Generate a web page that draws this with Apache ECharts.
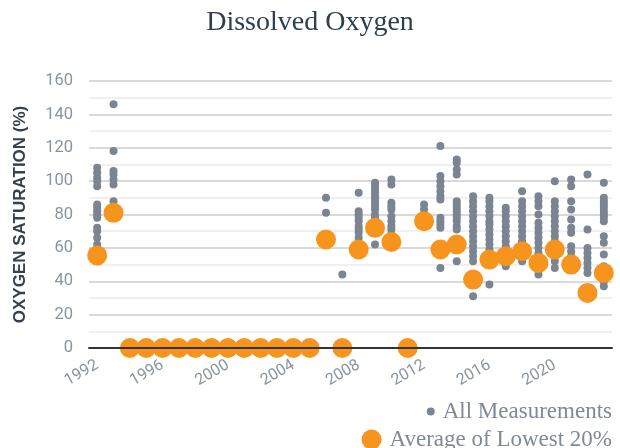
<!DOCTYPE html>
<html>
<head>
<meta charset="utf-8">
<style>
  html, body { margin: 0; padding: 0; background: #fff; }
  #chart { width: 620px; height: 448px; }
</style>
<script src="https://cdn.jsdelivr.net/npm/echarts@6/dist/echarts.min.js"></script>
</head>
<body>
<div id="chart"></div>
<script>
// years that have data
const years = [1992, 1993, 1994, 1995, 1996, 1997, 1998, 1999, 2000, 2001, 2002, 2003,
  2004, 2005, 2006, 2007, 2008, 2009, 2010, 2011, 2012, 2013, 2014, 2015, 2016,
  2017, 2018, 2019, 2020, 2021, 2022, 2023];

// all measurements, one list per year (same order as years)
const measurements = [
  [108, 105, 102, 100, 97, 86, 84, 82, 80, 78, 72, 70, 66, 62],
  [146, 118, 106, 104, 101, 98, 88, 84],
  [0], [0], [0], [0], [0], [0], [0], [0], [0], [0], [0], [0],
  [90, 81],
  [44, 0],
  [93, 82, 80, 78, 76, 73, 71, 69, 66, 63],
  [99, 97, 95, 93, 91, 89, 87, 85, 83, 80, 78, 62],
  [101, 98, 87, 85, 83, 79, 76, 73, 71, 68],
  [0],
  [86, 83],
  [121, 103, 100, 97, 94, 91, 89, 78, 76, 74, 72, 48],
  [113, 111, 107, 104, 88, 86, 84, 82, 80, 78, 76, 73, 71, 52],
  [91, 88, 85, 82, 79, 76, 73, 70, 67, 64, 61, 58, 55, 52, 31],
  [90, 88, 85, 82, 79, 76, 74, 71, 68, 65, 62, 59, 56, 53, 38],
  [84, 82, 79, 76, 73, 70, 67, 64, 61, 58, 55, 52, 49],
  [94, 88, 85, 82, 79, 76, 73, 70, 67, 64, 61, 58, 55, 52],
  [91, 88, 85, 80, 75, 72, 69, 66, 63, 60, 57, 54, 50, 47, 44],
  [100, 88, 85, 82, 79, 76, 73, 70, 67, 64, 61, 58, 55, 52, 48],
  [101, 97, 88, 83, 77, 72, 69, 61, 58, 55, 52, 49],
  [104, 71, 60, 57, 54, 51, 48, 45],
  [99, 90, 88, 86, 84, 82, 80, 78, 76, 67, 63, 56, 49, 46, 43, 40, 37]
];

// average of the lowest 20% per year
const lowest20 = [55.5, 81, 0, 0, 0, 0, 0, 0, 0, 0, 0, 0, 0, 0, 65, 0, 59, 72, 63.5, 0,
  76, 59, 62, 41, 53, 55, 58, 51, 59, 50, 33, 45];

const yearTicks = [1992, 1996, 2000, 2004, 2008, 2012, 2016, 2020];

const allPoints = [];
years.forEach((y, i) => {
  measurements[i].forEach(v => allPoints.push([y, v]));
});
const avgPoints = years.map((y, i) => [y, lowest20[i]]);

const chart = echarts.init(document.getElementById('chart'));

const legendText = { fontFamily: 'Liberation Serif', fontSize: 23, color: '#7f8a96', padding: [0, 0, 0, 3] };

const option = {
  animation: false,
  title: {
    text: 'Dissolved Oxygen',
    left: 'center',
    top: 4,
    textStyle: {
      fontFamily: 'Liberation Serif',
      fontWeight: 'normal',
      fontSize: 28,
      color: '#2c3e50'
    }
  },
  legend: [{
    data: ['All Measurements'],
    orient: 'vertical',
    right: 3,
    top: 395,
    icon: 'circle',
    itemWidth: 8,
    itemHeight: 8,
    textStyle: legendText
  }, {
    data: ['Average of Lowest 20%'],
    orient: 'vertical',
    right: 3,
    top: 423,
    icon: 'circle',
    itemWidth: 20,
    itemHeight: 20,
    textStyle: legendText
  }],
  grid: {
    left: 89,
    right: 8,
    top: 81,
    bottom: 100,
    containLabel: false
  },
  xAxis: {
    type: 'value',
    min: 1991.5,
    max: 2023.5,
    z: 5,
    axisLine: { show: true, onZero: true, lineStyle: { color: '#333', width: 2 } },
    axisTick: { show: false },
    splitLine: { show: false },
    axisLabel: {
      customValues: yearTicks,
      formatter: v => String(v),
      rotate: 30,
      margin: 16,
      fontFamily: 'Roboto',
      fontSize: 16,
      color: '#8a949f'
    }
  },
  yAxis: {
    type: 'value',
    min: 0,
    max: 160,
    interval: 20,
    name: 'OXYGEN SATURATION (%)',
    nameLocation: 'middle',
    nameGap: 60,
    nameTextStyle: {
      fontFamily: 'Liberation Sans',
      fontWeight: 'bold',
      fontSize: 17,
      color: '#37414d'
    },
    axisLine: { show: false },
    axisTick: { show: false },
    axisLabel: {
      margin: 16,
      fontFamily: 'Roboto',
      fontSize: 16.5,
      color: '#8a949f'
    },
    splitLine: { show: true, lineStyle: { color: '#cccccc', width: 1.5 } },
    minorTick: { show: false, splitNumber: 2 },
    minorSplitLine: { show: true, lineStyle: { color: '#ececec', width: 1.5 } }
  },
  series: [{
    name: 'All Measurements',
    type: 'scatter',
    data: allPoints,
    symbolSize: 8,
    itemStyle: { color: '#7a8591', opacity: 1 },
    z: 2
  }, {
    name: 'Average of Lowest 20%',
    type: 'scatter',
    data: avgPoints,
    symbolSize: 20,
    itemStyle: { color: '#f7941d', opacity: 1 },
    z: 3
  }]
};

chart.setOption(option);
</script>
</body>
</html>
